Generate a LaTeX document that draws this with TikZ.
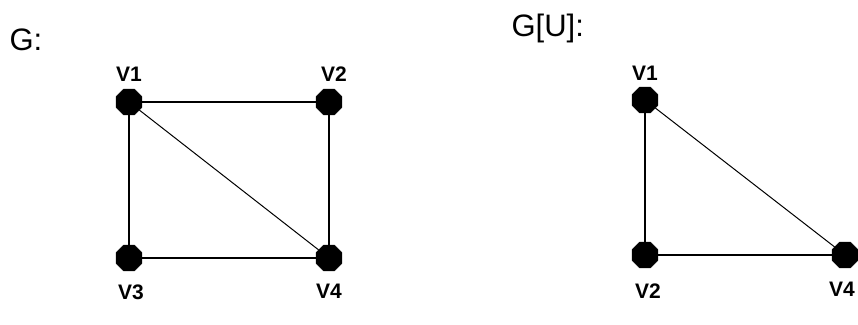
\documentclass[tikz,border=0pt]{standalone}
\usepackage{fontspec}
\setmainfont{Liberation Sans}
\usepackage{tikz}
\usetikzlibrary{shapes.geometric, positioning}

\begin{document}
\begin{tikzpicture}[
  x=1pt, y=-1pt,
  vertex/.style={regular polygon, regular polygon sides=8, draw, fill=black,
    inner sep=0pt, minimum size=28pt},
  vlabel/.style={font=\bfseries\fontsize{21}{21}\selectfont},
  title/.style={font=\fontsize{31}{31}\selectfont, anchor=west},
  edge/.style={line width=1.8pt},
  diag/.style={line width=1pt},
  node distance=30pt, on grid
]
\useasboundingbox (0,0) rectangle (858,324);

% Titles
\node[title] (tg) at (6,40) {G:};
\node[title] (tgu) at (508,28) {G[U]:};

% Graph G
\node[vertex] (a1) at (129,102) {};
\node[vertex] (a2) at (329,102) {};
\node[vertex] (a3) at (129,258) {};
\node[vertex] (a4) at (329,258) {};
\node[vlabel, above=28pt of a1] (la1) {V1};
\node[vlabel, above=28pt of a2, xshift=5pt] (la2) {V2};
\node[vlabel, below=34pt of a3, xshift=2pt] (la3) {V3};
\node[vlabel, below=33pt of a4] (la4) {V4};

\draw[edge] (a1) -- (a2);
\draw[edge] (a1) -- (a3);
\draw[edge] (a2) -- (a4);
\draw[edge] (a3) -- (a4);
\draw[diag] (a1) -- (a4);

% Subgraph G[U]
\node[vertex] (b1) at (645,100) {};
\node[vertex] (b2) at (645,255) {};
\node[vertex] (b4) at (845,255) {};
\node[vlabel, above=27pt of b1] (lb1) {V1};
\node[vlabel, below=36pt of b2, xshift=3pt] (lb2) {V2};
\node[vlabel, below=34pt of b4, xshift=-3pt] (lb4) {V4};

\draw[edge] (b1) -- (b2);
\draw[edge] (b2) -- (b4);
\draw[diag] (b1) -- (b4);

\end{tikzpicture}
\end{document}
